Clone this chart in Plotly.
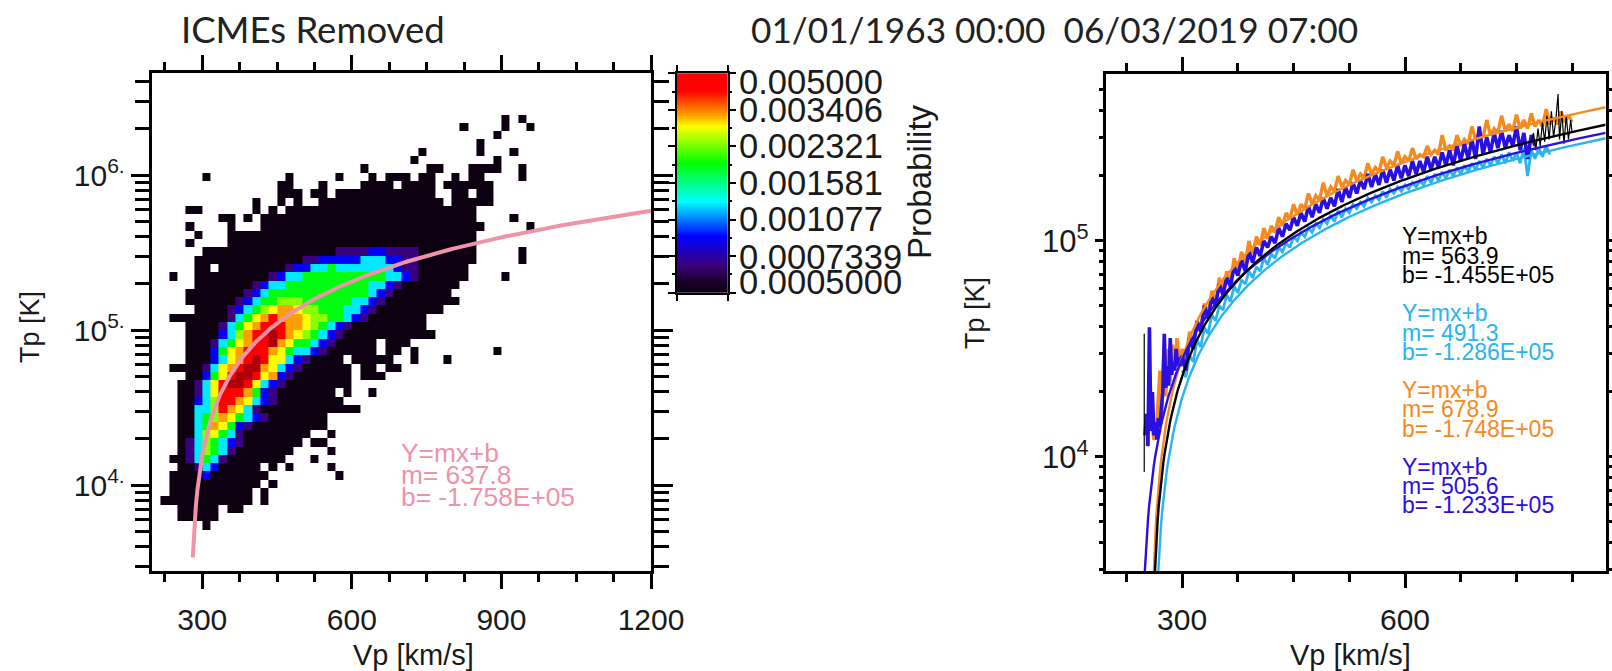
import numpy as np
import plotly.graph_objects as go

W, H = 1612, 671
FONT = "Liberation Sans"
TITLE_FONT = "Lato"

# ---- left panel: 60 x 60 probability bins, rows counted from the top ----
N_BINS = 60
PROB = {"k": 5.0e-4, "p": 6.7e-4, "b": 8.9e-4, "c": 1.26e-3, "g": 1.9e-3,
        "l": 2.4e-3, "y": 2.86e-3, "o": 3.23e-3, "r": 4.16e-3, "d": 6.25e-3}
OCCUPIED_BINS = {
    5: "42 44", 6: "37 42 45", 7: "41", 8: "39", 9: "32 39 43", 10: "31 41",
    11: "25 33-34 38-41 44", 12: "6 16 22 26 28-30 32-33 36 38-39 44",
    13: "15-16 20 25-28 30-33 35-40", 14: "15-17 19-20 22-33 36-37 39-40",
    15: "12 15 17 20-34 36-40", 16: "4-5 12 14 16-38", 17: "8-9 11 13-38 43",
    18: "4 9 13-39 45", 19: "5 9-38", 20: "4 9-38", 21: "6-38 44", 22: "5-38 44",
    23: "5-6 8-37", 24: "2 5-37 42", 25: "5-36", 26: "4-35", 27: "4-36", 28: "5-34",
    29: "2-32", 30: "4-32", 31: "4-33", 32: "4-26 28-30", 33: "4-26 28-29 31 41",
    34: "4-22 24-28 31 35", 35: "2-23 25-26 28-29", 36: "4-23 25-27", 37: "3-23",
    38: "3-21 23 26", 39: "3-22", 40: "3-24", 41: "3-20", 42: "3-20", 43: "3-18 21",
    44: "3-17 19-20", 45: "3-16 21", 46: "2-15 19", 47: "3-12 14 16 21", 48: "2-13 22",
    49: "2-12 14", 50: "2-11 13", 51: "1-11 13", 52: "3-7 9-10", 53: "3-7", 54: "6",
}
# row: (first column, one level letter per column)
RIDGE_BINS = {
    21: (22, "ppppbbpppp"),
    22: (18, "ppbbbbbcccbbpp"),
    23: (16, "pbbccgcccccccbpp"),
    24: (14, "pbccggggggggggccbp"),
    25: (12, "pbccggggggggggccbp"),
    26: (11, "pbcggggggggggggcbp"),
    27: (10, "pbcgglllggggggccbp"),
    28: (9, "pbcglyooyllgggccbp"),
    29: (9, "pcgyoroooyllggcbp"),
    30: (8, "pcgyorrrooylgcbp"),
    31: (8, "bclorrdroylgcbp"),
    32: (7, "pcgyorrdoyggcbp"),
    33: (7, "bgyorrroygccbp"),
    34: (7, "bcyordryycbp"),
    35: (6, "pcyorddoycbp"),
    36: (6, "bgyrddryobp"),
    37: (5, "pcyrddrycbp"),
    38: (5, "pcyrrrogbp"),
    39: (5, "bclrroycbp"),
    40: (5, "cclroycp"),
    41: (5, "cgloygcbp"),
    42: (5, "cgoygbp"),
    43: (5, "clygcp"),
    44: (4, "pclgcbp"),
    45: (4, "pclgcp"),
    46: (4, "pcgcp"),
    47: (5, "pcb"),
    48: (6, "b"),
}
LEFT_FIT = (637.8, -1.758e5)
RIGHT_FITS = {"black": (563.9, -1.455e5), "cyan": (491.3, -1.286e5),
              "orange": (678.9, -1.748e5), "blue": (505.6, -1.233e5)}

CB_TICKS = [0.0005, 0.0007339, 0.001077, 0.001581, 0.002321, 0.003406, 0.005]
CB_MINOR = [0.000606, 0.000889, 0.001305, 0.001916, 0.002812, 0.004127]
CB_LABELS = ["0.0005000", "0.0007339", "0.001077", "0.001581", "0.002321", "0.003406", "0.005000"]

# ---- right panel: binned averages, log10(T), upper and lower edge of the trace ----
ORANGE_LOW_X = [253, 256, 259, 262, 265, 268, 270, 272, 275, 278, 281, 284, 287, 290, 293, 296]
ORANGE_LOW_T = [4.05, 4.25, 4.15, 4.08, 4.10, 4.30, 4.40, 4.15, 4.45, 4.28, 4.50, 4.35, 4.52, 4.42, 4.55, 4.45]
ORANGE_HI = [4.50, 4.58, 4.63, 4.71, 4.77, 4.83, 4.86, 4.92, 4.95, 5.00, 5.02, 5.06, 5.07, 5.11, 5.13, 5.17,
             5.17, 5.22, 5.21, 5.27, 5.25, 5.30, 5.28, 5.33, 5.31, 5.36, 5.34, 5.39, 5.37, 5.415, 5.39, 5.43,
             5.40, 5.44, 5.42, 5.49, 5.44, 5.49, 5.47, 5.53, 5.50, 5.56, 5.52, 5.58, 5.54, 5.585, 5.56, 5.59,
             5.56, 5.61, 5.57, 5.60, 5.58]
ORANGE_LO = [4.45, 4.53, 4.59, 4.66, 4.71, 4.77, 4.81, 4.86, 4.90, 4.94, 4.98, 5.01, 5.04, 5.07, 5.10, 5.12,
             5.15, 5.17, 5.19, 5.21, 5.23, 5.25, 5.26, 5.28, 5.29, 5.31, 5.32, 5.34, 5.35, 5.36, 5.37, 5.38,
             5.39, 5.40, 5.40, 5.42, 5.42, 5.44, 5.45, 5.47, 5.48, 5.49, 5.50, 5.51, 5.51, 5.52, 5.52, 5.53,
             5.53, 5.54, 5.54, 5.55, 5.55]
BLUE_LOW_X = [250, 252, 254, 256, 258, 260, 262, 264, 266, 268, 270, 272, 274, 276, 278, 280, 282, 284, 286, 288, 290, 292, 294, 296, 298]
BLUE_LOW_T = [4.10, 4.20, 4.05, 4.60, 4.12, 4.30, 4.10, 4.16, 4.08, 4.18, 4.14, 4.22, 4.30, 4.57, 4.32, 4.42, 4.33, 4.55, 4.38, 4.44, 4.40, 4.50, 4.42, 4.46, 4.42]
BLUE_HI = [4.47, 4.55, 4.63, 4.70, 4.74, 4.80, 4.83, 4.88, 4.91, 4.95, 4.97, 5.00, 5.02, 5.06, 5.08, 5.11,
           5.13, 5.16, 5.17, 5.20, 5.20, 5.24, 5.25, 5.27, 5.28, 5.31, 5.31, 5.33, 5.33, 5.35, 5.35, 5.37,
           5.37, 5.39, 5.39, 5.41, 5.42, 5.44, 5.45, 5.47, 5.53, 5.48, 5.50, 5.51, 5.49, 5.53, 5.50, 5.49]
BLUE_LO = [4.40, 4.50, 4.58, 4.64, 4.70, 4.75, 4.79, 4.84, 4.86, 4.90, 4.93, 4.97, 4.99, 5.02, 5.05, 5.07,
           5.09, 5.11, 5.13, 5.15, 5.16, 5.18, 5.20, 5.22, 5.24, 5.25, 5.26, 5.27, 5.28, 5.29, 5.30, 5.31,
           5.32, 5.33, 5.34, 5.35, 5.35, 5.37, 5.38, 5.38, 5.40, 5.41, 5.43, 5.43, 5.44, 5.42, 5.38, 5.44]
CYAN_HI = [4.40, 4.47, 4.54, 4.60, 4.66, 4.70, 4.75, 4.79, 4.82, 4.86, 4.88, 4.92, 4.94, 4.97, 4.99, 5.02,
           5.04, 5.06, 5.08, 5.10, 5.12, 5.14, 5.15, 5.17, 5.18, 5.20, 5.21, 5.23, 5.24, 5.25, 5.26, 5.27,
           5.28, 5.30, 5.31, 5.32, 5.33, 5.34, 5.35, 5.36, 5.37, 5.38, 5.39, 5.40, 5.41, 5.41, 5.43, 5.42,
           5.43, 5.44]
CYAN_LO = [4.37, 4.44, 4.51, 4.57, 4.63, 4.68, 4.72, 4.76, 4.80, 4.83, 4.86, 4.89, 4.92, 4.95, 4.97, 5.00,
           5.02, 5.04, 5.06, 5.08, 5.09, 5.11, 5.13, 5.15, 5.16, 5.18, 5.19, 5.20, 5.22, 5.23, 5.24, 5.25,
           5.26, 5.27, 5.28, 5.29, 5.30, 5.31, 5.32, 5.33, 5.34, 5.35, 5.36, 5.36, 5.37, 5.36, 5.30, 5.38,
           5.39, 5.40]
BLACK_SPIKE_X = [249, 249]
BLACK_SPIKE_T = [4.57, 3.93]
BLACK_TAIL_X = [770, 773, 776, 779, 782, 785, 788, 791, 794, 797, 800, 803, 806, 808, 811, 814, 817, 820, 823, 825]
BLACK_TAIL_T = [5.46, 5.50, 5.42, 5.52, 5.44, 5.55, 5.46, 5.58, 5.47, 5.60, 5.48, 5.56, 5.68, 5.47, 5.60, 5.45, 5.58, 5.47, 5.56, 5.50]

COL_ORANGE = "#f58a1f"
COL_CYAN = "#2ab4f0"
COL_BLUE = "#2a10e0"
COL_PINK = "#ee93a8"

def parse_bins(spec):
    out = []
    for part in spec.split():
        if "-" in part:
            a, b = part.split("-")
            out.extend(range(int(a), int(b) + 1))
        else:
            out.append(int(part))
    return out

Z = np.full((N_BINS, N_BINS), np.nan)
for r, spec in OCCUPIED_BINS.items():
    for c in parse_bins(spec):
        Z[r, c] = np.log10(PROB["k"])
for r, (c0, levels) in RIDGE_BINS.items():
    for i, ch in enumerate(levels):
        Z[r, c0 + i] = np.log10(PROB[ch])

L_XR = (200, 1200)
L_YR = (3.447, 6.660)
R_XR = (197, 870)
R_YR = (3.472, 5.773)
x_edges = np.linspace(L_XR[0], L_XR[1], N_BINS + 1)
y_edges = np.linspace(L_YR[1], L_YR[0], N_BINS + 1)
x_c = (x_edges[:-1] + x_edges[1:]) / 2
y_c = 10 ** ((y_edges[:-1] + y_edges[1:]) / 2)

ZMIN, ZMAX = np.log10(5e-4), np.log10(6.5e-3)
SCALE = [[0, "#0d0010"], [0.05, "#1b0030"], [0.108, "#3c0078"], [0.229, "#0000ff"], [0.296, "#0078ff"],
         [0.373, "#00ffff"], [0.53, "#00ff00"], [0.68, "#ffff00"], [0.727, "#ffa000"], [0.826, "#ff0000"],
         [0.898, "#ff0000"], [1, "#a00008"]]

fig = go.Figure()
fig.add_trace(go.Heatmap(x=x_c, y=y_c, z=Z, zmin=ZMIN, zmax=ZMAX, colorscale=SCALE, showscale=False,
                         hoverongaps=False, xaxis="x", yaxis="y"))
vx = np.linspace(281, 1200, 300)
fig.add_trace(go.Scatter(x=vx, y=LEFT_FIT[0] * vx + LEFT_FIT[1], mode="lines",
                         line=dict(color=COL_PINK, width=4), xaxis="x", yaxis="y"))

cb_y = np.logspace(np.log10(5e-4), np.log10(5e-3), 300)
fig.add_trace(go.Heatmap(x=[0, 1], y=cb_y, z=np.log10(np.column_stack([cb_y, cb_y])), zmin=ZMIN, zmax=ZMAX,
                         colorscale=SCALE, showscale=False, xaxis="x3", yaxis="y3"))

def zigzag(hi, lo):
    xs, ys = [], []
    for i, (a, b) in enumerate(zip(hi, lo)):
        xs += [300 + 10 * i, 305 + 10 * i]
        ys += [10 ** a, 10 ** b]
    return xs, ys

def add_noise(low_x, low_t, hi, lo, color, width):
    xs, ys = zigzag(hi, lo)
    fig.add_trace(go.Scatter(x=list(low_x) + xs, y=[10 ** t for t in low_t] + ys, mode="lines",
                             line=dict(color=color, width=width), xaxis="x2", yaxis="y2"))

add_noise(ORANGE_LOW_X, ORANGE_LOW_T, ORANGE_HI, ORANGE_LO, COL_ORANGE, 3.4)
add_noise([], [], CYAN_HI, CYAN_LO, COL_CYAN, 2.8)
add_noise(BLUE_LOW_X, BLUE_LOW_T, BLUE_HI, BLUE_LO, COL_BLUE, 3.6)
fig.add_trace(go.Scatter(x=BLACK_SPIKE_X + [None] + BLACK_TAIL_X,
                         y=[10 ** t for t in BLACK_SPIKE_T] + [None] + [10 ** t for t in BLACK_TAIL_T],
                         mode="lines", line=dict(color="black", width=1.2), xaxis="x2", yaxis="y2"))
for name, color, x0 in [("cyan", COL_CYAN, 267), ("orange", COL_ORANGE, 261), ("blue", COL_BLUE, 249.5), ("black", "black", 262.5)]:
    m, b = RIGHT_FITS[name]
    vv = np.linspace(x0, 870, 400)
    fig.add_trace(go.Scatter(x=vv, y=m * vv + b, mode="lines", line=dict(color=color, width=2.4),
                             xaxis="x2", yaxis="y2"))

AX = dict(showgrid=False, zeroline=False, showline=True, linecolor="black", linewidth=2.5,
          mirror="ticks", ticks="outside", tickcolor="black", tickwidth=2.5, layer="above traces")
LOG_MINOR_L = [m * 10 ** e for e in (3, 4, 5, 6) for m in range(2, 10)]

fig.update_layout(
    width=W, height=H, margin=dict(l=0, r=0, t=0, b=0, autoexpand=False), paper_bgcolor="white", plot_bgcolor="white",
    showlegend=False, font=dict(family=FONT, color="#1a1a1a"),
    xaxis=dict(AX, domain=[152.4 / W, 651 / W], range=list(L_XR), anchor="y", tickvals=[300, 600, 900, 1200],
               ticklen=15, tickfont=dict(size=30), ticklabelstandoff=5,
               minor=dict(tickvals=[225, 375, 450, 525, 675, 750, 825, 975, 1050, 1125], ticklen=8, ticks="outside",
                          tickcolor="black", tickwidth=2.5, showgrid=False)),
    yaxis=dict(AX, domain=[1 - 571 / H, 1 - 73 / H], type="log", range=list(L_YR), anchor="x",
               tickvals=[1e4, 1e5, 1e6], ticktext=["10<sup>4.</sup>", "10<sup>5.</sup>", "10<sup>6.</sup>"],
               ticklen=19, tickfont=dict(size=30),
               minor=dict(tickvals=LOG_MINOR_L, ticklen=15, ticks="outside", tickcolor="black", tickwidth=2.5,
                          showgrid=False)),
    xaxis2=dict(AX, domain=[1105.6 / W, 1605.6 / W], range=list(R_XR), anchor="y2", tickvals=[300, 600],
                ticklen=14, tickfont=dict(size=30), ticklabelstandoff=6,
                minor=dict(tickvals=[225, 375, 450, 525, 675, 750, 825], ticklen=8, ticks="outside",
                           tickcolor="black", tickwidth=2.5, showgrid=False)),
    yaxis2=dict(AX, domain=[1 - 571 / H, 1 - 74 / H], type="log", range=list(R_YR), anchor="x2",
                tickvals=[1e4, 1e5], ticktext=["10<sup>4</sup>", "10<sup>5</sup>"],
                ticklen=8, tickfont=dict(size=31),
                minor=dict(tickvals=LOG_MINOR_L, ticklen=4, ticks="outside", tickcolor="black", tickwidth=2.5,
                           showgrid=False)),
    xaxis3=dict(AX, domain=[676.7 / W, 727.7 / W], range=[0, 1], anchor="y3", tickvals=[0, 1], showticklabels=False,
                ticklen=7, linewidth=1.5, tickwidth=1.5),
    yaxis3=dict(AX, domain=[1 - 292.7 / H, 1 - 73.3 / H], type="log", range=[np.log10(5e-4), np.log10(5e-3)],
                anchor="x3", tickvals=CB_TICKS, showticklabels=False, ticklen=7, linewidth=1.5, tickwidth=1.5,
                minor=dict(tickvals=CB_MINOR, ticklen=3, ticks="outside", tickcolor="black", tickwidth=1.5,
                           showgrid=False)),
)

def note(text, x, y, size, color="#1a1a1a", angle=0, anchor="left", family=FONT):
    fig.add_annotation(text=text, xref="paper", yref="paper", x=x / W, y=1 - y / H, showarrow=False,
                       xanchor=anchor, yanchor="middle", textangle=angle, font=dict(size=size, color=color, family=family))

note("ICMEs Removed", 179, 29, 36.5, "#222222", family=TITLE_FONT)
note("01/01/1963 00:00  06/03/2019 07:00", 749, 29, 35.2, "#222222", family=TITLE_FONT)
note("Vp [km/s]", 414, 655, 29, anchor="center")
note("Vp [km/s]", 1350, 655, 29, anchor="center")
note("Tp [K]", 30, 327, 27, angle=-90, anchor="center")
note("Tp [K]", 975, 313, 27, angle=-90, anchor="center")
note("Probability", 919, 182, 33, angle=-90, anchor="center")

CB_LABEL_Y = [281.7, 256.7, 219, 182.7, 146, 110, 81.7]
for lab, y in zip(CB_LABELS, CB_LABEL_Y):
    note(lab, 737, y, 34.5)

for i, t in enumerate(["Y=mx+b", "m= %.1f" % LEFT_FIT[0], "b= -1.758E+05"]):
    note(t, 398.6, 452.6 + 22.4 * i, 26.3, COL_PINK)
blocks = [("black", "black", "b= -1.455E+05", 236.3), ("cyan", COL_CYAN, "b= -1.286E+05", 313.3),
          ("orange", COL_ORANGE, "b= -1.748E+05", 390), ("blue", COL_BLUE, "b= -1.233E+05", 466.5)]
for name, col, bt, y0 in blocks:
    for i, t in enumerate(["Y=mx+b", "m= %.1f" % RIGHT_FITS[name][0], bt]):
        note(t, 1399.5, y0 + 19.4 * i, 23, col)

fig.write_html("out.html", config={"displayModeBar": False},
               post_script="document.body.style.margin='0';document.body.style.overflow='hidden';")
